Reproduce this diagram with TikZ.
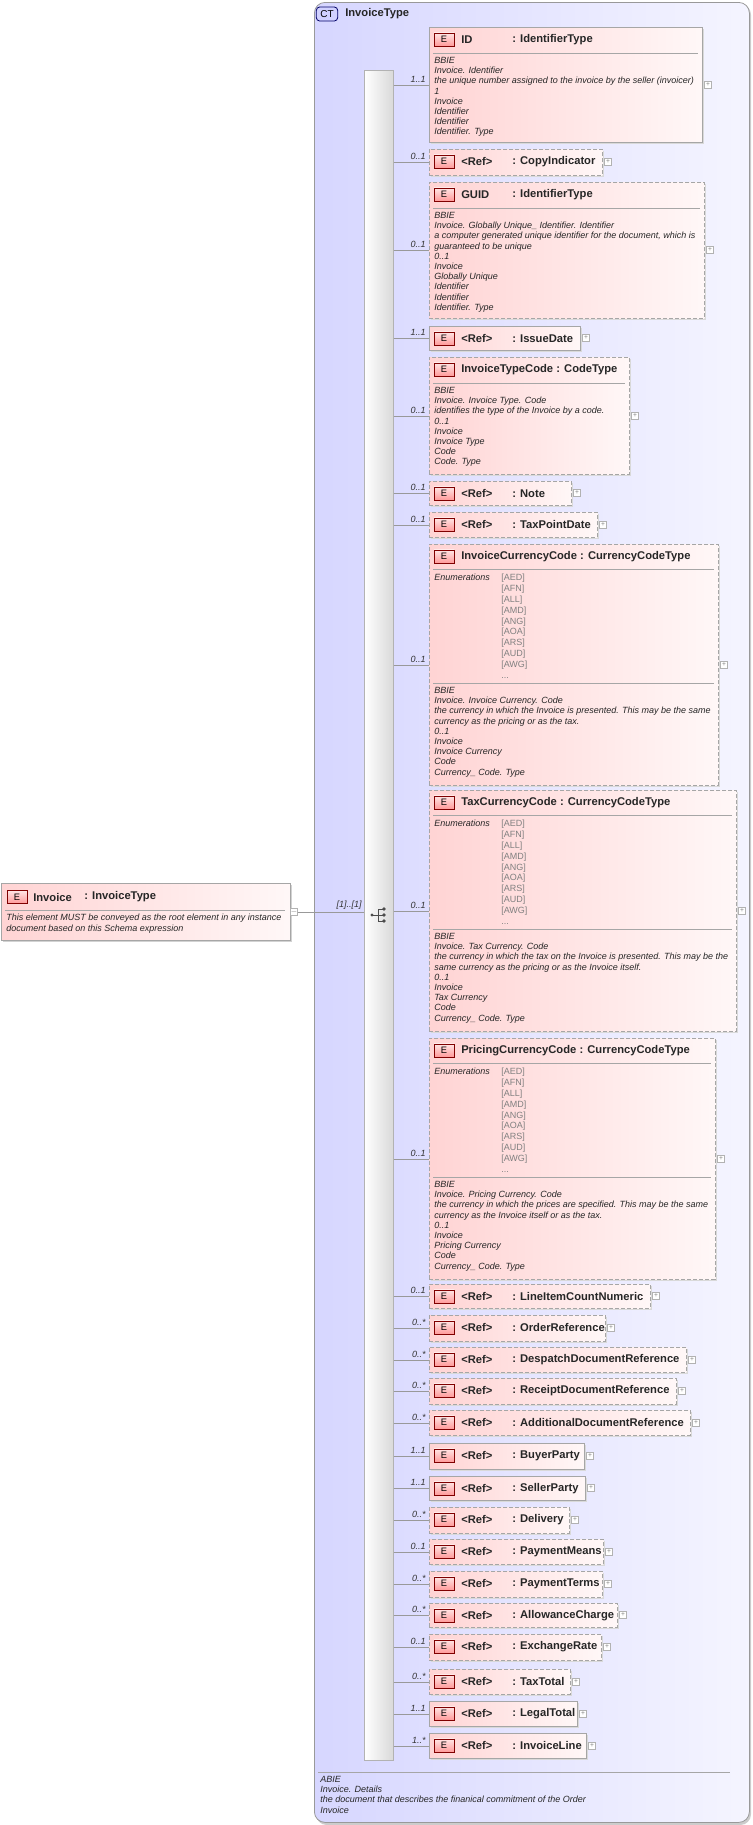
\documentclass[tikz,border=0pt]{standalone}
\usepackage{fontspec}
\setmainfont{Liberation Sans}
\begin{document}
\begin{tikzpicture}[x=0.75pt,y=-0.75pt,
  conn/.style={draw=gray!80,line width=0.5pt},
  ebox/.style={draw=gray!70,line width=0.6pt,left color=red!17,right color=red!3,inner sep=0pt,anchor=north west},
  optbox/.style={dash pattern=on 3pt off 1.5pt},
  reqbox/.style={},
  ebadge/.style={draw=red!50!black,line width=0.5pt,top color=red!10,bottom color=red!40,minimum width=15pt,minimum height=10pt,inner sep=0pt,font=\fontsize{7}{8}\selectfont},
  ttl/.style={font=\fontsize{8.4}{9.5}\selectfont\bfseries,inner sep=0pt,anchor=west,text=black!85},
  desc/.style={font=\fontsize{6.75}{7.65}\selectfont\itshape,inner sep=0pt,anchor=north west,align=left,text=black!85},
  enumt/.style={font=\fontsize{6.75}{8.1}\selectfont,inner sep=0pt,anchor=north west,align=left,text=gray},
  mult/.style={font=\fontsize{6.75}{7.5}\selectfont\itshape,inner sep=0pt,anchor=south east,text=black!80},
  plusbox/.style={draw=gray!60,line width=0.4pt,fill=white,minimum size=5.5pt,inner sep=0pt,font=\fontsize{5}{5}\selectfont,text=gray},
  sep/.style={draw=gray!70,line width=0.5pt}
]
\useasboundingbox (0,0) rectangle (753,1825);
% complex type container
\fill[gray!40,rounded corners=8pt] (316,4) rectangle (751,1825);
\node[draw=gray!80,line width=0.6pt,rounded corners=8pt,left color=blue!16,right color=blue!4,inner sep=0pt,anchor=north west,minimum width={435*0.75pt},minimum height={1820*0.75pt}] (ct) at (314,2) {};
\node[draw=blue!40!black,line width=0.6pt,rounded corners=2.5pt,fill=blue!18,minimum width=16pt,minimum height=10.5pt,inner sep=0pt,font=\fontsize{7.5}{8}\selectfont] (ctbadge) at (327,14) {CT};
\node[ttl] (cttitle) at (345,14) {InvoiceType};
\draw[sep] (318,1772) -- (730,1772);
\node[desc] (ctdesc) at (320,1776) {ABIE\\Invoice. Details\\the document that describes the finanical commitment of the Order\\Invoice};
% sequence bar
\node[draw=gray!60,line width=0.5pt,left color=white,right color=gray!30,inner sep=0pt,anchor=north west,minimum width={29*0.75pt},minimum height={1690*0.75pt}] (bar) at (364,70) {};
% sequence icon
\fill[black!70] (372,915) circle (1.6);
\draw[black!70,line width=0.7pt] (372,915) -- (378,915) (378,909) -- (378,921) (378,909) -- (384,909) (378,915) -- (384,915) (378,921) -- (384,921);
\fill[black!70] (384,909) circle (1.9) (384,915) circle (1.9) (384,921) circle (1.9);
% root element
\fill[gray!35] (3,885) rectangle (292,942);
\node[ebox,minimum width={289*0.75pt},minimum height={57*0.75pt}] (inv) at (1,883) {};
\node[ebadge] (invbadge) at (17,897) {E};
\node[ttl] (invname) at (33,897) {Invoice};
\node[ttl] (invtype) at (84,897) {: InvoiceType};
\draw[sep] (5,910) -- (285,910);
\node[desc] (invdesc) at (6,914) {This element MUST be conveyed as the root element in any instance\\document based on this Schema expression};
\node[plusbox] (invminus) at (294,912) {$-$};
\draw[conn] (invminus.east) -- (bar.west |- invminus.east);
\node[mult] (invmult) at (362,910) {[1]..[1]};

\newcommand\elem[8]{% top, bottom, right, style, name, type, mult, nodename
  \pgfmathsetmacro\ym{(#1+#2)/2}
  \fill[gray!30] (431,#1+2) rectangle (#3+2,#2+2);
  \node[ebox,#4,minimum width={(#3-429)*0.75pt},minimum height={(#2-#1)*0.75pt}] (#8) at (429,#1) {};
  \node[ebadge] (#8b) at (444,#1+12.5) {E};
  \node[ttl] (#8n) at (461,#1+12.5) {#5};
  \node[ttl] (#8t) at (512,#1+12.5) {#6};
  \node[plusbox] (#8p) at (#3+6,\ym) {+};
  \draw[conn] (bar.east |- #8.west) -- (#8.west);
  \node[mult] (#8m) at (426,\ym-2) {#7};
}
\newcommand\celem[8]{% combined title
  \pgfmathsetmacro\ym{(#1+#2)/2}
  \fill[gray!30] (431,#1+2) rectangle (#3+2,#2+2);
  \node[ebox,#4,minimum width={(#3-429)*0.75pt},minimum height={(#2-#1)*0.75pt}] (#8) at (429,#1) {};
  \node[ebadge] (#8b) at (444,#1+12.5) {E};
  \node[ttl] (#8n) at (461,#1+12.5) {#5\ #6};
  \node[plusbox] (#8p) at (#3+6,\ym) {+};
  \draw[conn] (bar.east |- #8.west) -- (#8.west);
  \node[mult] (#8m) at (426,\ym-2) {#7};
}
\newcommand\dsep[3]{\draw[sep] (433,#1) -- (#2-4,#1);}

% ID
\elem{27}{142}{702}{reqbox}{ID}{: IdentifierType}{1..1}{e1}
\dsep{53}{702}{}
\node[desc] at (434,57) {BBIE\\Invoice. Identifier\\the unique number assigned to the invoice by the seller (invoicer)\\1\\Invoice\\Identifier\\Identifier\\Identifier. Type};
\elem{149}{175}{602}{optbox}{<Ref>}{: CopyIndicator}{0..1}{e2}
\elem{182}{318}{704}{optbox}{GUID}{: IdentifierType}{0..1}{e3}
\dsep{208}{704}{}
\node[desc] at (434,212) {BBIE\\Invoice. Globally Unique\_ Identifier. Identifier\\a computer generated unique identifier for the document, which is\\guaranteed to be unique\\0..1\\Invoice\\Globally Unique\\Identifier\\Identifier\\Identifier. Type};
\elem{326}{350}{580}{reqbox}{<Ref>}{: IssueDate}{1..1}{e4}
\celem{357}{474}{629}{optbox}{InvoiceTypeCode}{: CodeType}{0..1}{e5}
\dsep{383}{629}{}
\node[desc] at (434,387) {BBIE\\Invoice. Invoice Type. Code\\identifies the type of the Invoice by a code.\\0..1\\Invoice\\Invoice Type\\Code\\Code. Type};
\elem{481}{505}{571}{optbox}{<Ref>}{: Note}{0..1}{e6}
\elem{512}{537}{597}{optbox}{<Ref>}{: TaxPointDate}{0..1}{e7}

\newcommand\enumblock[3]{% top, right, desc
  \dsep{#1+25}{#2}{}
  \node[desc] at (434,#1+30) {Enumerations};
  \node[enumt] at (501,#1+30) {{[AED]}\\{[AFN]}\\{[ALL]}\\{[AMD]}\\{[ANG]}\\{[AOA]}\\{[ARS]}\\{[AUD]}\\{[AWG]}\\...};
  \dsep{#1+139}{#2}{}
  \node[desc] at (434,#1+143) {#3};
}
\celem{544}{785}{718}{optbox}{InvoiceCurrencyCode}{: CurrencyCodeType}{0..1}{e8}
\enumblock{544}{718}{BBIE\\Invoice. Invoice Currency. Code\\the currency in which the Invoice is presented. This may be the same\\currency as the pricing or as the tax.\\0..1\\Invoice\\Invoice Currency\\Code\\Currency\_ Code. Type}
\celem{790}{1031}{736}{optbox}{TaxCurrencyCode}{: CurrencyCodeType}{0..1}{e9}
\enumblock{790}{736}{BBIE\\Invoice. Tax Currency. Code\\the currency in which the tax on the Invoice is presented. This may be the\\same currency as the pricing or as the Invoice itself.\\0..1\\Invoice\\Tax Currency\\Code\\Currency\_ Code. Type}
\celem{1038}{1279}{715}{optbox}{PricingCurrencyCode}{: CurrencyCodeType}{0..1}{e10}
\enumblock{1038}{715}{BBIE\\Invoice. Pricing Currency. Code\\the currency in which the prices are specified. This may be the same\\currency as the Invoice itself or as the tax.\\0..1\\Invoice\\Pricing Currency\\Code\\Currency\_ Code. Type}

\elem{1284}{1308}{650}{optbox}{<Ref>}{: LineItemCountNumeric}{0..1}{e11}
\elem{1315}{1341}{605}{optbox}{<Ref>}{: OrderReference}{0..*}{e12}
\elem{1347}{1372}{686}{optbox}{<Ref>}{: DespatchDocumentReference}{0..*}{e13}
\elem{1378}{1404}{676}{optbox}{<Ref>}{: ReceiptDocumentReference}{0..*}{e14}
\elem{1410}{1435}{690}{optbox}{<Ref>}{: AdditionalDocumentReference}{0..*}{e15}
\elem{1443}{1469}{584}{reqbox}{<Ref>}{: BuyerParty}{1..1}{e16}
\elem{1476}{1500}{585}{reqbox}{<Ref>}{: SellerParty}{1..1}{e17}
\elem{1507}{1533}{569}{optbox}{<Ref>}{: Delivery}{0..*}{e18}
\elem{1539}{1564}{603}{optbox}{<Ref>}{: PaymentMeans}{0..1}{e19}
\elem{1571}{1597}{602}{optbox}{<Ref>}{: PaymentTerms}{0..*}{e20}
\elem{1603}{1627}{617}{optbox}{<Ref>}{: AllowanceCharge}{0..*}{e21}
\elem{1634}{1660}{601}{optbox}{<Ref>}{: ExchangeRate}{0..1}{e22}
\elem{1669}{1694}{570}{optbox}{<Ref>}{: TaxTotal}{0..*}{e23}
\elem{1701}{1726}{577}{reqbox}{<Ref>}{: LegalTotal}{1..1}{e24}
\elem{1733}{1758}{586}{reqbox}{<Ref>}{: InvoiceLine}{1..*}{e25}
\end{tikzpicture}
\end{document}
